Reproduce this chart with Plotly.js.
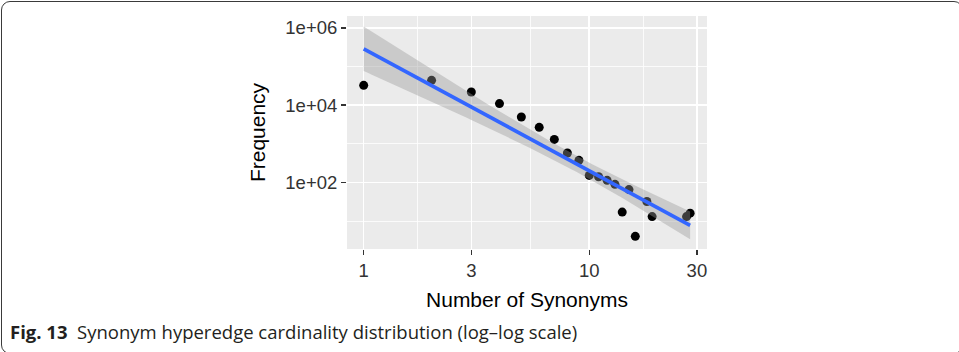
<!DOCTYPE html>
<html>
<head>
<meta charset="utf-8">
<script src="https://cdn.plot.ly/plotly-3.0.1.min.js"></script>
<style>
  html, body { margin: 0; padding: 0; background: #fff; overflow: hidden; }
  #chart { width: 959px; height: 352px; }
  #frame { position: absolute; left: 0.5px; top: 0.5px; width: 962px; height: 353px;
           border: 1.4px solid #3a3a3a; border-radius: 9px; box-sizing: border-box; pointer-events: none; }
</style>
</head>
<body>
<div id="chart"></div>
<div id="frame"></div>
<script>
// Data
const synonyms  = [1, 2, 3, 4, 5, 6, 7, 8, 9, 10, 11, 12, 13, 14, 15, 16, 18, 19, 27, 28];
const frequency = [32700, 44000, 22000, 11000, 4950, 2670, 1300, 578, 373, 152, 140, 113, 89, 17, 65, 4, 32, 13, 13, 16];
const xTickVals = [1, 3, 10, 30];
const xTickText = ['1', '3', '10', '30'];
const yTickVals = [1e2, 1e4, 1e6];
const yTickText = ['1e+02', '1e+04', '1e+06'];
const xMinorVals = [Math.sqrt(3), Math.sqrt(30), Math.sqrt(300)];
const yMinorVals = [1e1, 1e3, 1e5];

// Linear fit on log-log scale with 95% confidence band (like geom_smooth(method = "lm"))
const lx = synonyms.map(Math.log10);
const ly = frequency.map(Math.log10);
const n = lx.length;
const mx = lx.reduce((a, b) => a + b, 0) / n;
const my = ly.reduce((a, b) => a + b, 0) / n;
let sxx = 0, sxy = 0;
for (let i = 0; i < n; i++) { sxx += (lx[i] - mx) ** 2; sxy += (lx[i] - mx) * (ly[i] - my); }
const slope = sxy / sxx;
const icpt = my - slope * mx;
let sse = 0;
for (let i = 0; i < n; i++) { sse += (ly[i] - (icpt + slope * lx[i])) ** 2; }
const s = Math.sqrt(sse / (n - 2));
const tq = 2.100922; // t(0.975, df = 18)
const xmin = Math.min(...lx), xmax = Math.max(...lx);
const fx = [], fy = [], up = [], lo = [];
const steps = 80;
for (let k = 0; k <= steps; k++) {
  const x = xmin + (xmax - xmin) * k / steps;
  const yhat = icpt + slope * x;
  const se = s * Math.sqrt(1 / n + (x - mx) ** 2 / sxx);
  fx.push(Math.pow(10, x));
  fy.push(Math.pow(10, yhat));
  up.push(Math.pow(10, yhat + tq * se));
  lo.push(Math.pow(10, yhat - tq * se));
}
const bandX = fx.concat(fx.slice().reverse());
const bandY = up.concat(lo.slice().reverse());

const traces = [
  { x: synonyms, y: frequency, type: 'scatter', mode: 'markers',
    marker: { color: '#000000', size: 9 }, hoverinfo: 'x+y' },
  { x: bandX, y: bandY, type: 'scatter', mode: 'lines', fill: 'toself',
    fillcolor: 'rgba(153,153,153,0.4)', line: { width: 0 }, hoverinfo: 'skip' },
  { x: fx, y: fy, type: 'scatter', mode: 'lines',
    line: { color: '#3366FF', width: 3.6 }, hoverinfo: 'skip' }
];

const tickFont = { family: 'Liberation Sans, Arial, sans-serif', size: 18.5, color: '#333333' };
const titleFont = { family: 'Liberation Sans, Arial, sans-serif', size: 21, color: '#000000' };

const layout = {
  width: 959, height: 352,
  margin: { l: 347, r: 252, t: 16, b: 103 },
  paper_bgcolor: '#ffffff',
  plot_bgcolor: '#EBEBEB',
  showlegend: false,
  xaxis: {
    type: 'log', range: [-0.074, 1.522],
    tickmode: 'array', tickvals: xTickVals, ticktext: xTickText,
    ticks: 'outside', ticklen: 5, tickwidth: 1.5, tickcolor: '#333333',
    tickfont: tickFont,
    showgrid: true, gridcolor: '#FFFFFF', gridwidth: 1.6,
    minor: { tickmode: 'array', tickvals: xMinorVals, showgrid: true, gridcolor: '#FFFFFF', gridwidth: 0.8, ticks: '' },
    zeroline: false, showline: false,
    title: { text: 'Number of Synonyms', font: titleFont, standoff: 12 }
  },
  yaxis: {
    type: 'log', range: [0.275, 6.31],
    tickmode: 'array', tickvals: yTickVals, ticktext: yTickText,
    ticks: 'outside', ticklen: 5, tickwidth: 1.5, tickcolor: '#333333',
    tickfont: tickFont,
    showgrid: true, gridcolor: '#FFFFFF', gridwidth: 1.6,
    minor: { tickmode: 'array', tickvals: yMinorVals, showgrid: true, gridcolor: '#FFFFFF', gridwidth: 0.8, ticks: '' },
    zeroline: false, showline: false,
    title: { text: 'Frequency', font: titleFont, standoff: 13 }
  },
  annotations: [
    { xref: 'paper', yref: 'paper', x: (8 - 347) / 360, y: (249 - 331) / 233,
      xanchor: 'left', yanchor: 'middle', showarrow: false, align: 'left',
      text: '<b>Fig. 13</b>  Synonym hyperedge cardinality distribution (log–log scale)',
      font: { family: 'Open Sans, sans-serif', size: 18.5, color: '#231F20' } }
  ]
};

Plotly.newPlot('chart', traces, layout, { displayModeBar: false, staticPlot: true });
</script>
</body>
</html>
